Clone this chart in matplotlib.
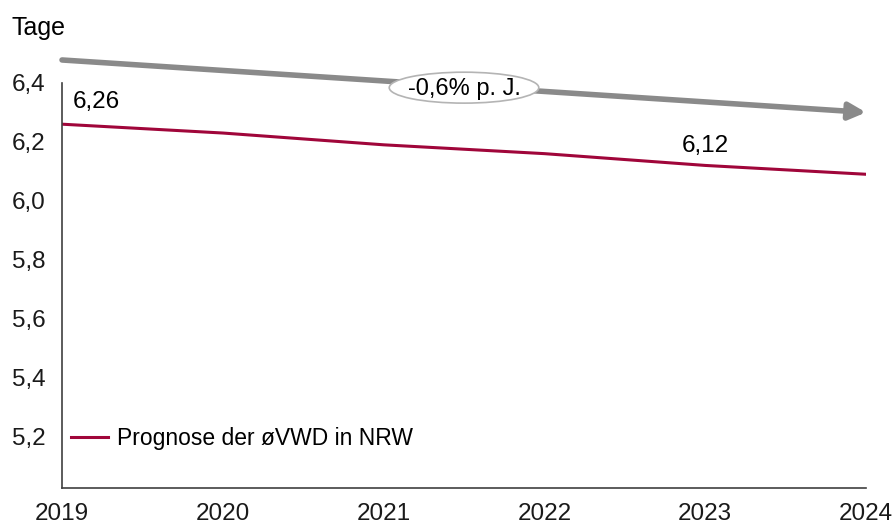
import matplotlib.pyplot as plt
from matplotlib.patches import Ellipse

plt.rcParams["font.family"] = ["Liberation Sans", "DejaVu Sans"]

years = [2019, 2020, 2021, 2022, 2023, 2024]
vwd = [6.26, 6.23, 6.19, 6.16, 6.12, 6.09]
yticks = [5.2, 5.4, 5.6, 5.8, 6.0, 6.2, 6.4]
series_label = "Prognose der øVWD in NRW"
trend_label = "-0,6% p. J."
trend_y = [6.478, 6.30]

RED = "#a0063a"
GREY = "#8a8a8a"

fig = plt.figure(figsize=(8.95, 5.25), dpi=100)
ax = fig.add_axes([0.0693, 0.0705, 0.8983, 0.7715])

ax.plot(years, vwd, color=RED, lw=2.2, label=series_label)
ax.set_xlim(years[0], years[-1])
ax.set_ylim(5.025, 6.4)
ax.set_yticks(yticks)
ax.set_yticklabels([f"{v:.1f}".replace(".", ",") for v in yticks])
ax.set_xticks(years)
ax.tick_params(length=0, labelsize=17.5, colors="#1a1a1a")
ax.tick_params(axis="y", pad=12)
ax.tick_params(axis="x", pad=11)
for s in ["top", "right"]:
    ax.spines[s].set_visible(False)
for s in ["left", "bottom"]:
    ax.spines[s].set_color("#404040")
    ax.spines[s].set_linewidth(1.2)

# value labels
ax.annotate(f"{vwd[0]:.2f}".replace(".", ","), (years[0], vwd[0]), xytext=(8, 12),
            textcoords="offset points", fontsize=17.5, ha="left", va="baseline")
ax.annotate(f"{vwd[4]:.2f}".replace(".", ","), (years[4], vwd[4]), xytext=(0, 10),
            textcoords="offset points", fontsize=17.5, ha="center", va="baseline")

# trend arrow above the plot
ax.annotate("", xy=(years[-1], trend_y[1]), xytext=(years[0], trend_y[0]),
            xycoords="data", annotation_clip=False,
            arrowprops=dict(arrowstyle="-|>,head_length=1.0,head_width=0.5",
                            color=GREY, lw=4, shrinkA=0, shrinkB=0))
ex = 2021.5
ey = trend_y[0] + (trend_y[1] - trend_y[0]) * (ex - years[0]) / (years[-1] - years[0])
ell = Ellipse((ex, ey - 0.005), width=0.93, height=0.105, facecolor="white",
              edgecolor="#b4b4b4", lw=1.2, clip_on=False, zorder=5)
ax.add_patch(ell)
ax.text(ex, ey - 0.008, trend_label, ha="center", va="center", fontsize=17, zorder=6)

ax.legend(loc="lower left", bbox_to_anchor=(0.0, 0.072), frameon=False, fontsize=16.5,
          handlelength=1.6, handletextpad=0.4, borderaxespad=0.0)

fig.text(12 / 895, 1 - 28 / 525, "Tage", fontsize=18, ha="left", va="center")

fig.savefig("out.png", dpi=100, facecolor="white")
